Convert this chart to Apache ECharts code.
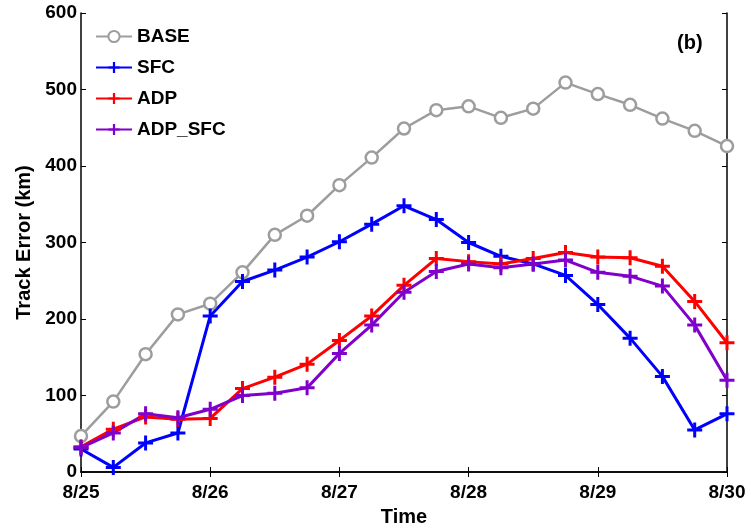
<!DOCTYPE html>
<html>
<head>
<meta charset="utf-8">
<script src="https://cdn.jsdelivr.net/npm/echarts@6/dist/echarts.min.js"></script>
<style>html,body{margin:0;padding:0;background:#fff}#c{width:751px;height:532px}</style>
</head>
<body>
<div id="c"></div>
<script>
var times = ['8/25','8/25 06','8/25 12','8/25 18','8/26','8/26 06','8/26 12','8/26 18','8/27','8/27 06','8/27 12','8/27 18','8/28','8/28 06','8/28 12','8/28 18','8/29','8/29 06','8/29 12','8/29 18','8/30'];
var base   = [47,92,154,206,220,261,310,335,375,411,449,473,478,463,475,509,494,480,462,446,426];
var sfc    = [30,6,38,51,204,249,264,281,301,324,348,330,300,282,272,257,219,175,125,55,76];
var adp    = [33,56,72,69,70,109,124,141,172,204,244,279,275,272,279,287,281,280,269,223,169];
var adpSfc = [32,51,76,71,82,100,103,110,155,192,235,262,272,267,272,277,261,256,243,192,120];
var yTicks = [0,100,200,300,400,500,600];

var FONT = '"Liberation Sans", Arial, Helvetica, sans-serif';
var plus = 'path://M4,0 H6 V4 H10 V6 H6 V10 H4 V6 H0 V4 H4 Z';

function mk(name, data, color, width, symbol, size, isCircle) {
  return {
    name: name, type: 'line', data: data, xAxisIndex: 0, yAxisIndex: 0,
    symbol: symbol, symbolSize: size, showAllSymbol: true,
    lineStyle: {color: color, width: width},
    itemStyle: isCircle ? {color: '#fff', borderColor: color, borderWidth: 2.5} : {color: color, borderWidth: 0},
    emphasis: {disabled: true}, animation: false, z: 3
  };
}

var chart = echarts.init(document.getElementById('c'), null, {renderer: 'canvas'});
chart.setOption({
  animation: false,
  backgroundColor: '#fff',
  grid: {left: 81, right: 24, top: 13, bottom: 49, containLabel: false},
  legend: {
    orient: 'vertical', left: 90, top: 22,
    itemWidth: 36, itemHeight: 14, itemGap: 12,
    textStyle: {fontFamily: FONT, fontWeight: 'bold', fontSize: 19, color: '#000'},
    data: ['BASE','SFC','ADP','ADP_SFC']
  },
  graphic: [{
    type: 'text', left: 677, top: 33,
    style: {text: '(b)', font: 'bold 20px ' + FONT, fill: '#000'}
  }],
  xAxis: [{
    type: 'category', data: times, boundaryGap: false,
    name: 'Time', nameLocation: 'middle', nameGap: 35,
    nameTextStyle: {fontFamily: FONT, fontWeight: 'bold', fontSize: 20, color: '#000'},
    axisLine: {lineStyle: {color: '#000', width: 1.5}},
    axisTick: {inside: true, interval: 3, length: 5, lineStyle: {color: '#000'}},
    axisLabel: {interval: 3, margin: 11, fontFamily: FONT, fontWeight: 'bold', fontSize: 19, color: '#000',
      formatter: function(v){ return v.split(' ')[0]; }},
    splitLine: {show: false}
  },{
    type: 'category', data: times, boundaryGap: false, position: 'top',
    axisLine: {lineStyle: {color: '#000', width: 1.5}},
    axisTick: {inside: true, interval: 3, length: 5, lineStyle: {color: '#000'}},
    axisLabel: {show: false}, splitLine: {show: false}
  }],
  yAxis: [{
    type: 'value', min: 0, max: 600, interval: 100,
    name: 'Track Error (km)', nameLocation: 'middle', nameGap: 44,
    nameTextStyle: {fontFamily: FONT, fontWeight: 'bold', fontSize: 20, color: '#000'},
    axisLine: {show: true, lineStyle: {color: '#000', width: 1.5}},
    axisTick: {show: true, inside: true, length: 5, lineStyle: {color: '#000'}},
    axisLabel: {margin: 4, fontFamily: FONT, fontWeight: 'bold', fontSize: 19, color: '#000',
      formatter: function(v){ return yTicks.indexOf(v) >= 0 ? String(v) : ''; }},
    splitLine: {show: false}
  },{
    type: 'value', min: 0, max: 600, interval: 100, position: 'right',
    axisLine: {show: true, lineStyle: {color: '#000', width: 1.5}},
    axisTick: {show: true, inside: true, length: 5, lineStyle: {color: '#000'}},
    axisLabel: {show: false}, splitLine: {show: false}
  }],
  series: [
    mk('BASE', base, '#9d9d9d', 2.5, 'circle', 12, true),
    mk('SFC', sfc, '#0000ff', 3, plus, 15, false),
    mk('ADP', adp, '#ff0000', 3, plus, 15, false),
    mk('ADP_SFC', adpSfc, '#8000cc', 3, plus, 15, false)
  ]
});
</script>
</body>
</html>
